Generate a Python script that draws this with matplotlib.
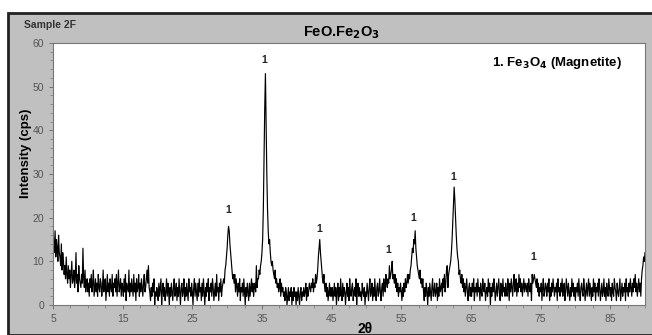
import numpy as np
import matplotlib
matplotlib.use("Agg")
import matplotlib.pyplot as plt
from matplotlib.ticker import MultipleLocator
from matplotlib.patches import Rectangle

plt.rcParams["font.family"] = ["Liberation Sans", "DejaVu Sans"]

# ============================================================
# DATA  (2-theta from 5.0 to 90.0 in 0.1 deg steps)
# ============================================================
two_theta_start = 5.0
two_theta_step = 0.1

i_05_10 = [19, 14, 12, 17, 11, 15, 13, 10, 16, 12,
           11, 9, 14, 8, 12, 10, 7, 9, 6, 11,
           7, 5, 9, 6, 8, 4, 7, 10, 5, 6,
           8, 4, 6, 12, 5, 7, 3, 9, 6, 5,
           4, 7, 5, 13, 6, 4, 8, 3, 5, 6]
i_10_15 = [3, 5, 2, 6, 4, 7, 3, 5, 8, 2,
           4, 6, 3, 5, 2, 7, 4, 3, 6, 5,
           2, 4, 8, 3, 5, 6, 1, 4, 7, 3,
           5, 2, 6, 4, 3, 7, 2, 5, 4, 6,
           3, 7, 2, 5, 8, 3, 4, 6, 2, 5]
i_15_20 = [4, 2, 6, 3, 7, 1, 5, 4, 3, 8,
           2, 5, 3, 6, 4, 2, 7, 3, 5, 1,
           6, 3, 4, 7, 2, 5, 3, 6, 4, 2,
           5, 7, 3, 4, 6, 8, 5, 9, 4, 3,
           1, 4, 2, 5, 3, 6, 0, 3, 2, 4]
i_20_25 = [3, 1, 5, 2, 4, 6, 0, 3, 5, 2,
           4, 1, 3, 6, 2, 5, 3, 0, 4, 2,
           5, 3, 1, 4, 6, 2, 3, 5, 1, 4,
           2, 6, 3, 0, 4, 5, 2, 3, 6, 1,
           4, 2, 5, 3, 1, 6, 3, 4, 2, 5]
i_25_30 = [3, 0, 4, 6, 2, 5, 3, 1, 5, 2,
           6, 3, 4, 1, 5, 2, 6, 3, 0, 4,
           2, 5, 3, 6, 1, 4, 3, 5, 2, 6,
           4, 1, 3, 5, 2, 7, 3, 4, 1, 5,
           3, 6, 2, 4, 5, 6, 5, 8, 9, 11]
i_30_35 = [13, 16, 18, 17, 14, 12, 10, 8, 6, 7,
           5, 7, 3, 6, 4, 2, 5, 3, 6, 1,
           4, 3, 5, 2, 6, 3, 0, 4, 2, 5,
           3, 1, 5, 2, 4, 6, 3, 5, 2, 4,
           5, 3, 9, 4, 6, 6, 8, 7, 9, 10]
i_35_40 = [12, 15, 22, 33, 45, 53, 42, 30, 22, 17,
           14, 15, 12, 10, 9, 10, 8, 7, 6, 8,
           5, 6, 4, 5, 3, 4, 6, 2, 5, 3,
           4, 2, 3, 1, 4, 3, 0, 2, 4, 1,
           3, 2, 4, 0, 3, 1, 4, 2, 3, 0]
i_40_45 = [3, 1, 4, 2, 0, 3, 4, 1, 3, 2,
           4, 2, 3, 5, 1, 4, 2, 3, 5, 4,
           3, 5, 4, 6, 3, 5, 4, 7, 5, 6,
           8, 11, 13, 15, 12, 10, 8, 6, 5, 7,
           4, 3, 5, 2, 4, 1, 3, 5, 2, 4]
i_45_50 = [2, 4, 1, 3, 5, 2, 4, 0, 3, 5,
           1, 4, 2, 6, 3, 1, 5, 2, 4, 3,
           0, 3, 5, 2, 4, 1, 6, 3, 2, 4,
           5, 1, 3, 4, 2, 6, 0, 3, 5, 2,
           4, 2, 3, 1, 5, 3, 2, 4, 0, 3]
i_50_55 = [2, 5, 3, 1, 4, 6, 2, 3, 5, 1,
           4, 2, 6, 3, 1, 4, 5, 2, 3, 6,
           3, 1, 4, 5, 2, 6, 4, 3, 7, 5,
           4, 6, 5, 9, 6, 7, 8, 10, 6, 7,
           5, 7, 4, 6, 3, 5, 2, 4, 3, 5]
i_55_60 = [3, 1, 4, 2, 5, 3, 6, 4, 5, 7,
           5, 7, 6, 8, 9, 11, 13, 12, 15, 14,
           17, 13, 11, 9, 8, 7, 6, 8, 5, 6,
           4, 6, 3, 1, 4, 2, 5, 3, 0, 4,
           2, 5, 3, 1, 4, 6, 2, 3, 5, 2]
i_60_65 = [3, 5, 1, 4, 2, 6, 3, 4, 5, 2,
           6, 4, 7, 3, 5, 8, 9, 4, 7, 8,
           9, 10, 12, 15, 19, 23, 27, 24, 20, 16,
           13, 11, 10, 7, 8, 6, 5, 7, 4, 6,
           3, 5, 2, 4, 6, 3, 1, 4, 5, 2]
i_65_70 = [4, 2, 5, 3, 6, 1, 4, 3, 5, 2,
           6, 3, 4, 1, 5, 3, 2, 6, 4, 3,
           5, 1, 3, 4, 2, 6, 3, 5, 0, 4,
           2, 5, 3, 6, 4, 1, 3, 5, 2, 4,
           6, 3, 1, 5, 4, 2, 6, 3, 4, 2]
i_70_75 = [5, 3, 2, 6, 4, 1, 5, 3, 6, 4,
           2, 5, 7, 3, 4, 6, 2, 5, 3, 7,
           4, 6, 3, 5, 2, 4, 6, 3, 5, 4,
           3, 5, 2, 6, 4, 3, 5, 1, 7, 5,
           6, 7, 6, 5, 4, 6, 3, 5, 2, 4]
i_75_80 = [3, 5, 1, 4, 6, 2, 3, 5, 4, 2,
           5, 3, 6, 1, 4, 2, 5, 3, 6, 4,
           2, 4, 3, 5, 1, 6, 3, 4, 2, 5,
           3, 6, 2, 4, 5, 1, 3, 6, 4, 2,
           5, 3, 1, 4, 2, 6, 3, 5, 2, 4]
i_80_85 = [1, 4, 3, 5, 2, 6, 3, 1, 4, 5,
           3, 2, 6, 4, 1, 3, 5, 2, 4, 6,
           2, 5, 3, 1, 4, 2, 6, 3, 5, 1,
           4, 3, 5, 2, 6, 4, 1, 3, 5, 2,
           3, 6, 2, 4, 1, 5, 3, 2, 6, 4]
i_85_90 = [2, 4, 1, 5, 3, 2, 6, 4, 3, 1,
           5, 3, 2, 4, 6, 1, 3, 5, 2, 4,
           3, 5, 1, 6, 3, 4, 2, 5, 3, 6,
           4, 2, 5, 3, 6, 4, 7, 3, 5, 2,
           4, 6, 3, 5, 2, 6, 8, 9, 11, 10,
           12]

intensity = np.array(i_05_10 + i_10_15 + i_15_20 + i_20_25 + i_25_30 +
                     i_30_35 + i_35_40 + i_40_45 + i_45_50 + i_50_55 +
                     i_55_60 + i_60_65 + i_65_70 + i_70_75 + i_75_80 +
                     i_80_85 + i_85_90, dtype=float)
two_theta = two_theta_start + two_theta_step * np.arange(len(intensity))

# peak markers ("1" = magnetite)
peak_pos = [30.1, 35.4, 43.2, 53.2, 56.7, 62.4, 73.9]
peak_lab_y = [20.5, 55.0, 16.3, 11.5, 18.8, 28.2, 9.9]

# ============================================================
# PLOT
# ============================================================
bg = "#c0c0c0"
fig = plt.figure(figsize=(6.52, 3.35), dpi=100)
fig.patch.set_facecolor("white")

# grey panel with dark frame
fig.patches.append(Rectangle((8 / 652, 0), 1.0, 1 - 13 / 335,
                             transform=fig.transFigure, facecolor=bg,
                             edgecolor="#222222", lw=2.0, zorder=-10))

ax = fig.add_axes([53 / 652, 30 / 335, 592 / 652, 262 / 335])
ax.set_facecolor("white")
ax.plot(two_theta, intensity, color="black", lw=0.85)

for xp, yp in zip(peak_pos, peak_lab_y):
    ax.text(xp, yp, "1", ha="center", va="bottom", fontsize=7.5,
            fontweight="bold", color="#222222")

ax.set_xlim(5, 90)
ax.set_ylim(0, 60)
ax.set_xticks(np.arange(5, 90, 10))
ax.set_yticks(np.arange(0, 61, 10))
ax.xaxis.set_minor_locator(MultipleLocator(2.5))
ax.yaxis.set_minor_locator(MultipleLocator(2))
ax.tick_params(axis="both", which="major", labelsize=7.5, labelcolor="#555555",
               color="#666666", length=3, width=0.6)
ax.tick_params(axis="both", which="minor", color="#777777", length=2,
               width=0.5)
for s in ax.spines.values():
    s.set_color("#777777")
    s.set_linewidth(0.8)

ax.set_xlabel("2θ", fontsize=10, fontweight="bold", labelpad=1)
ax.xaxis.set_label_coords((365 - 53) / 592, -0.065)
ax.set_ylabel("Intensity (cps)", fontsize=9.5, fontweight="bold", labelpad=2)
ax.yaxis.set_label_coords(-0.036, 0.58)

fig.text(24 / 652, 1 - 25 / 335, "Sample 2F", fontsize=7.5,
         fontweight="bold", color="#333333", va="center")
fig.text(342 / 652, 1 - 33 / 335, r"FeO.Fe$_\mathbf{2}$O$_\mathbf{3}$",
         fontsize=10.5, fontweight="bold", ha="center", va="center")
ax.text(0.962, 0.925, r"1. Fe$_\mathbf{3}$O$_\mathbf{4}$ (Magnetite)",
        transform=ax.transAxes, fontsize=9.5, fontweight="bold",
        ha="right", va="center")

plt.savefig("out.png", dpi=100, facecolor=fig.get_facecolor())
